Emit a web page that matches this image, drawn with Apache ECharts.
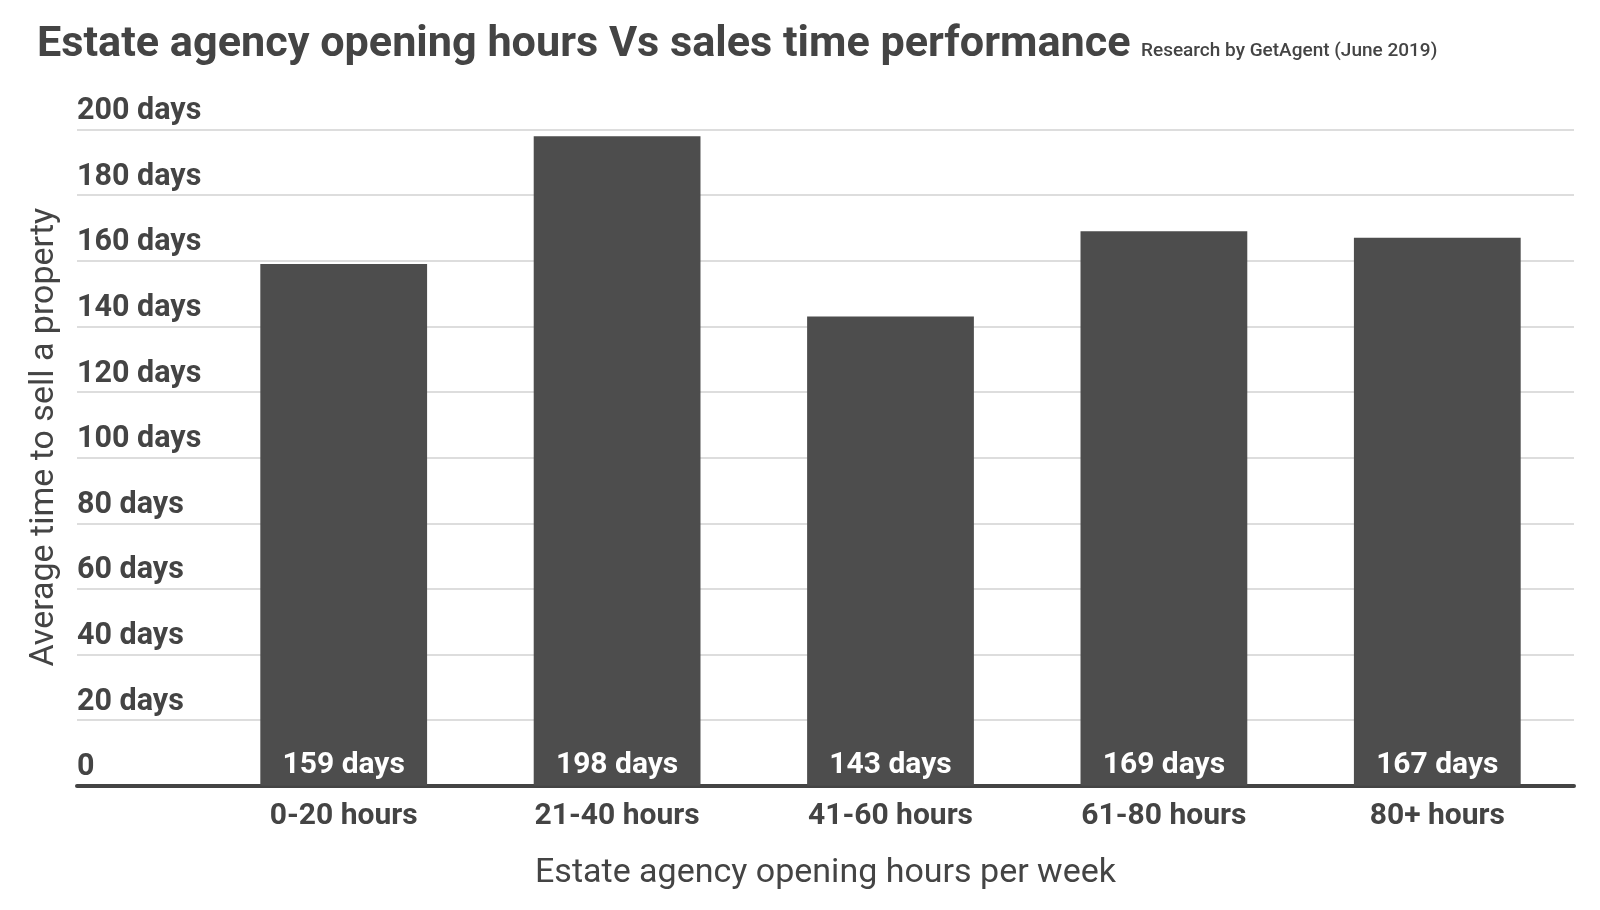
<!DOCTYPE html>
<html><head><meta charset="utf-8">
<script src="https://cdn.jsdelivr.net/npm/echarts@6/dist/echarts.min.js"></script>
<style>html,body{margin:0;padding:0;background:#fff}#c{width:1600px;height:910px}</style>
</head><body><div id="c"></div>
<script>
const categories = ['0-20 hours', '21-40 hours', '41-60 hours', '61-80 hours', '80+ hours'];
const values = [159, 198, 143, 169, 167];
const yTicks = [0, 20, 40, 60, 80, 100, 120, 140, 160, 180, 200];
const titleText = 'Estate agency opening hours Vs sales time performance';
const subText = 'Research by GetAgent (June 2019)';
const xName = 'Estate agency opening hours per week';
const yName = 'Average time to sell a property';

const FONT = 'Roboto';
const TXT = '#444444';
const chart = echarts.init(document.getElementById('c'), null, {renderer: 'canvas'});
const gTop = 129.6, gBottom = 124.3;
chart.setOption({
  animation: false,
  backgroundColor: '#ffffff',
  textStyle: {fontFamily: FONT},
  title: [
    {text: titleText, left: 32, top: 19, textStyle: {fontFamily: FONT, fontSize: 43.2, fontWeight: 'bold', color: TXT, lineHeight: 43}},
    {text: subText, left: 1136, top: 37, textStyle: {fontFamily: FONT, fontSize: 19, fontWeight: 500, color: TXT, lineHeight: 19}}
  ],
  grid: [
    {left: 77, right: 26, top: gTop, bottom: gBottom},
    {left: 207, right: 26, top: gTop, bottom: gBottom}
  ],
  xAxis: [
    {gridIndex: 0, type: 'value', min: 0, max: 1, show: true,
     axisLine: {show: true, lineStyle: {color: TXT, width: 4}},
     axisTick: {show: false}, axisLabel: {show: false}, splitLine: {show: false},
     name: xName, nameLocation: 'middle', nameGap: 71,
     nameTextStyle: {fontFamily: FONT, fontSize: 34, color: TXT}},
    {gridIndex: 1, type: 'category', data: categories,
     axisLine: {show: false}, axisTick: {show: false},
     axisLabel: {fontFamily: FONT, fontSize: 30, fontWeight: 'bold', color: TXT, margin: 16}}
  ],
  yAxis: [
    {gridIndex: 0, type: 'value', min: yTicks[0], max: yTicks[yTicks.length-1], interval: 20,
     axisLine: {show: false}, axisTick: {show: false},
     splitLine: {show: true, lineStyle: {color: '#dddddd', width: 2}},
     axisLabel: {inside: true, margin: 0, align: 'left', verticalAlign: 'bottom',
       padding: [0, 0, 3, 0], lineHeight: 30,
       fontFamily: FONT, fontSize: 30.5, fontWeight: 'bold', color: TXT,
       formatter: v => v === 0 ? '0' : v + ' days'},
     name: yName, nameLocation: 'middle', nameGap: 16, nameRotate: 90,
     nameTextStyle: {fontFamily: FONT, fontSize: 34, color: TXT, padding: [0, 0, 0, 41]}},
    {gridIndex: 1, type: 'value', min: yTicks[0], max: yTicks[yTicks.length-1], interval: 20, show: false,
     splitLine: {show: false}}
  ],
  series: [{
    type: 'bar', xAxisIndex: 1, yAxisIndex: 1, data: values,
    barWidth: '61%',
    itemStyle: {color: '#4d4d4d'},
    label: {show: true, position: 'insideBottom', distance: 5, lineHeight: 30,
      fontFamily: FONT, fontSize: 30, fontWeight: 'bold', color: '#ffffff',
      formatter: p => p.value + ' days'}
  }]
});
</script></body></html>
